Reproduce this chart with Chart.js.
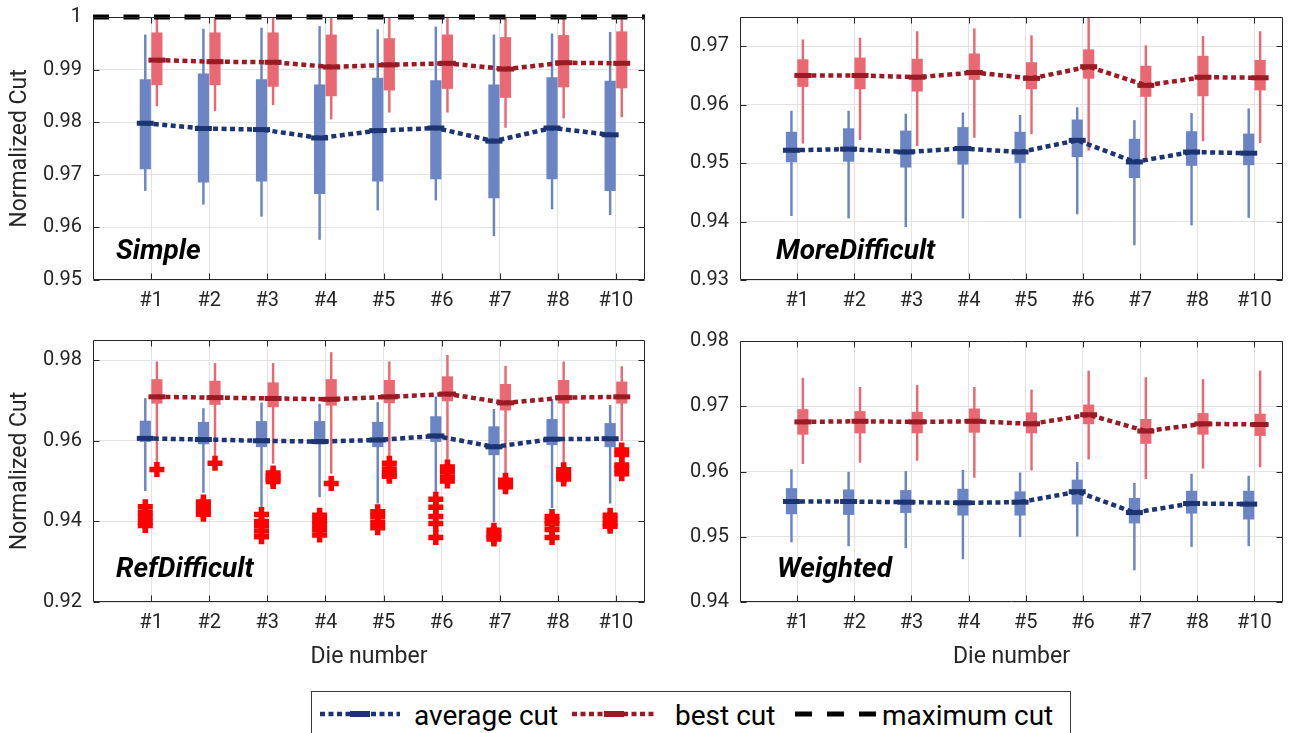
<!DOCTYPE html>
<html>
<head>
<meta charset="utf-8">
<script src="https://cdn.jsdelivr.net/npm/chart.js@4.4.1/dist/chart.umd.min.js"></script>
<style>
  body { margin: 0; background: #fff; width: 1291px; height: 733px; overflow: hidden; position: relative; font-family: Roboto, sans-serif; color: #262626; }
  canvas { position: absolute; }
  .tag { position: absolute; font: italic 700 28px Roboto, sans-serif; line-height: 28px; color: #000; white-space: nowrap; }
  #legend { position: absolute; left: 311px; top: 691px; width: 760px; height: 52px; border: 1px solid #3a3a3a; box-sizing: border-box; background: #fff; }
  #legend svg, #legend span { position: absolute; }
  #legend span { font-size: 28px; line-height: 28px; color: #000; white-space: nowrap; }
</style>
</head>
<body>
<!-- canvases start 23px above the plot box: chart.js keeps that room for the top tick label -->
<canvas id="simple" width="650" height="326" style="left:0;top:-6px"></canvas>
<canvas id="more" width="641" height="326" style="left:650px;top:-6px"></canvas>
<canvas id="ref" width="650" height="363" style="left:0;top:317px"></canvas>
<canvas id="weighted" width="641" height="362" style="left:650px;top:318px"></canvas>

<div class="tag" style="left:116px;top:236px">Simple</div>
<div class="tag" style="left:776px;top:236px">MoreDifficult</div>
<div class="tag" style="left:116px;top:554px">RefDifficult</div>
<div class="tag" style="left:777px;top:554px">Weighted</div>

<div id="legend">
  <svg style="left:8px;top:16px" width="80" height="12">
    <line x1="0" y1="6" x2="80" y2="6" stroke="#1d3473" stroke-width="4.5" stroke-dasharray="5 3.5"/>
    <line x1="30" y1="6" x2="50" y2="6" stroke="#1d3473" stroke-width="6"/>
  </svg>
  <span style="left:102px;top:10px">average cut</span>
  <svg style="left:260px;top:16px" width="84" height="12">
    <line x1="0" y1="6" x2="84" y2="6" stroke="#9b1b24" stroke-width="4.5" stroke-dasharray="5 3.5"/>
    <line x1="32" y1="6" x2="52" y2="6" stroke="#9b1b24" stroke-width="6"/>
  </svg>
  <span style="left:363px;top:10px">best cut</span>
  <svg style="left:483px;top:16px" width="84" height="12">
    <line x1="0" y1="6" x2="84" y2="6" stroke="#000" stroke-width="5" stroke-dasharray="17 15"/>
  </svg>
  <span style="left:570px;top:10px">maximum cut</span>
</div>

<script>
const dies = ['#1', '#2', '#3', '#4', '#5', '#6', '#7', '#8', '#10'];

// each entry: [lower whisker, q1, median, q3, upper whisker]
const simpleAvg = [
  [0.9670, 0.9711, 0.9798, 0.9881, 0.9966],
  [0.9644, 0.9686, 0.9788, 0.9892, 0.9977],
  [0.9621, 0.9688, 0.9786, 0.9881, 0.9979],
  [0.9577, 0.9664, 0.9770, 0.9871, 0.9982],
  [0.9633, 0.9688, 0.9784, 0.9884, 0.9976],
  [0.9652, 0.9692, 0.9789, 0.9879, 0.9981],
  [0.9584, 0.9656, 0.9764, 0.9871, 0.9966],
  [0.9635, 0.9692, 0.9789, 0.9885, 0.9968],
  [0.9624, 0.9670, 0.9776, 0.9878, 0.9971]
];
const simpleBest = [
  [0.9831, 0.9871, 0.9918, 0.9970, 1.0],
  [0.9822, 0.9871, 0.9915, 0.9970, 1.0],
  [0.9833, 0.9868, 0.9914, 0.9970, 1.0],
  [0.9806, 0.9850, 0.9905, 0.9966, 1.0],
  [0.9819, 0.9861, 0.9909, 0.9959, 1.0],
  [0.9819, 0.9864, 0.9912, 0.9966, 1.0],
  [0.9790, 0.9847, 0.9901, 0.9961, 1.0],
  [0.9808, 0.9867, 0.9913, 0.9965, 1.0],
  [0.9810, 0.9865, 0.9912, 0.9972, 0.9995]
];

const moreAvg = [
  [0.9410, 0.9502, 0.9522, 0.9553, 0.9589],
  [0.9406, 0.9503, 0.9524, 0.9559, 0.9589],
  [0.9391, 0.9493, 0.9519, 0.9555, 0.9584],
  [0.9406, 0.9498, 0.9525, 0.9561, 0.9586],
  [0.9406, 0.9501, 0.9519, 0.9553, 0.9582],
  [0.9413, 0.9511, 0.9539, 0.9574, 0.9595],
  [0.9360, 0.9475, 0.9502, 0.9541, 0.9573],
  [0.9394, 0.9496, 0.9519, 0.9554, 0.9585],
  [0.9407, 0.9497, 0.9517, 0.9550, 0.9593]
];
const moreBest = [
  [0.9534, 0.9631, 0.9650, 0.9677, 0.9711],
  [0.9540, 0.9627, 0.9650, 0.9680, 0.9714],
  [0.9530, 0.9623, 0.9647, 0.9678, 0.9725],
  [0.9544, 0.9643, 0.9655, 0.9687, 0.9730],
  [0.9550, 0.9627, 0.9645, 0.9672, 0.9718],
  [0.9522, 0.9645, 0.9665, 0.9694, 0.9760],
  [0.9509, 0.9614, 0.9633, 0.9666, 0.9701],
  [0.9538, 0.9615, 0.9647, 0.9683, 0.9717],
  [0.9535, 0.9625, 0.9646, 0.9676, 0.9725]
];

const refAvg = [
  [0.9476, 0.9598, 0.9606, 0.9649, 0.9705],
  [0.9472, 0.9592, 0.9603, 0.9646, 0.9680],
  [0.9436, 0.9585, 0.9600, 0.9648, 0.9694],
  [0.9461, 0.9592, 0.9598, 0.9648, 0.9691],
  [0.9445, 0.9585, 0.9602, 0.9646, 0.9695],
  [0.9453, 0.9598, 0.9612, 0.9660, 0.9709],
  [0.9399, 0.9565, 0.9585, 0.9635, 0.9678],
  [0.9434, 0.9590, 0.9604, 0.9653, 0.9703],
  [0.9445, 0.9585, 0.9605, 0.9643, 0.9688]
];
const refBest = [
  [0.9548, 0.9693, 0.9709, 0.9752, 0.9796],
  [0.9558, 0.9690, 0.9707, 0.9748, 0.9792],
  [0.9544, 0.9684, 0.9705, 0.9744, 0.9792],
  [0.9519, 0.9688, 0.9703, 0.9752, 0.9819],
  [0.9560, 0.9694, 0.9709, 0.9750, 0.9796],
  [0.9552, 0.9699, 0.9716, 0.9759, 0.9812],
  [0.9515, 0.9676, 0.9694, 0.9740, 0.9785],
  [0.9544, 0.9693, 0.9707, 0.9750, 0.9796],
  [0.9600, 0.9693, 0.9709, 0.9746, 0.9784]
];
// outliers beyond the whiskers, per die
const refAvgOutliers = [
  [0.9436, 0.9422, 0.9410, 0.9398, 0.9390],
  [0.9448, 0.9440, 0.9432, 0.9424, 0.9418],
  [0.9417, 0.9400, 0.9390, 0.9376, 0.9362],
  [0.9415, 0.9402, 0.9392, 0.9380, 0.9366],
  [0.9424, 0.9412, 0.9398, 0.9384],
  [0.9455, 0.9435, 0.9412, 0.9395, 0.9360],
  [0.9378, 0.9370, 0.9362, 0.9356],
  [0.9412, 0.9402, 0.9394, 0.9380, 0.9360],
  [0.9415, 0.9405, 0.9395, 0.9388]
];
const refBestOutliers = [
  [0.9529],
  [0.9544],
  [0.9520, 0.9512, 0.9505, 0.9499],
  [0.9494],
  [0.9544, 0.9530, 0.9518, 0.9512],
  [0.9535, 0.9524, 0.9510, 0.9500],
  [0.9502, 0.9494, 0.9486],
  [0.9528, 0.9520, 0.9512, 0.9505],
  [0.9577, 0.9566, 0.9540, 0.9530, 0.9518]
];

const weightedAvg = [
  [0.9492, 0.9535, 0.9554, 0.9574, 0.9603],
  [0.9486, 0.9534, 0.9554, 0.9572, 0.9599],
  [0.9483, 0.9537, 0.9553, 0.9571, 0.9600],
  [0.9466, 0.9533, 0.9552, 0.9573, 0.9602],
  [0.9500, 0.9533, 0.9553, 0.9569, 0.9598],
  [0.9501, 0.9550, 0.9569, 0.9587, 0.9614],
  [0.9449, 0.9521, 0.9537, 0.9559, 0.9582],
  [0.9485, 0.9536, 0.9551, 0.9570, 0.9596],
  [0.9486, 0.9527, 0.9550, 0.9570, 0.9593]
];
const weightedBest = [
  [0.9612, 0.9657, 0.9676, 0.9695, 0.9743],
  [0.9614, 0.9659, 0.9677, 0.9692, 0.9729],
  [0.9617, 0.9659, 0.9676, 0.9691, 0.9732],
  [0.9591, 0.9660, 0.9677, 0.9696, 0.9729],
  [0.9602, 0.9659, 0.9673, 0.9690, 0.9725],
  [0.9619, 0.9673, 0.9687, 0.9702, 0.9754],
  [0.9589, 0.9643, 0.9662, 0.9680, 0.9744],
  [0.9605, 0.9657, 0.9673, 0.9689, 0.9741],
  [0.9607, 0.9655, 0.9672, 0.9688, 0.9754]
];

const simpleTicks = [0.95, 0.96, 0.97, 0.98, 0.99, 1];
const moreTicks = [0.93, 0.94, 0.95, 0.96, 0.97];
const refTicks = [0.92, 0.94, 0.96, 0.98];
const weightedTicks = [0.94, 0.95, 0.96, 0.97, 0.98];
const maxCut = 1;

const AVG_BOX = '#6a84c4', AVG_LINE = '#1d3473';
const BEST_BOX = '#ea6871', BEST_LINE = '#9b1b24';
const OUTLIER = '#ff0000';
const SHIFT = 0.1;

Chart.defaults.font.family = 'Roboto, sans-serif';
Chart.defaults.color = '#262626';

// box frame with inward tick marks on all four sides
const framePlugin = {
  id: 'frame',
  afterDraw(chart) {
    const { ctx, chartArea: a, scales } = chart;
    const L = Math.round(a.left) + 0.5, R = Math.round(a.right) - 0.5;
    const T = Math.round(a.top) + 0.5, B = Math.round(a.bottom) - 0.5;
    ctx.save();
    ctx.strokeStyle = '#262626';
    ctx.lineWidth = 1;
    ctx.beginPath();
    ctx.rect(L, T, R - L, B - T);
    scales.y.ticks.forEach(t => {
      const py = Math.round(scales.y.getPixelForValue(t.value)) + 0.5;
      ctx.moveTo(L, py); ctx.lineTo(L + 6, py);
      ctx.moveTo(R, py); ctx.lineTo(R - 6, py);
    });
    scales.x.ticks.forEach(t => {
      const px = Math.round(scales.x.getPixelForValue(t.value)) + 0.5;
      ctx.moveTo(px, B); ctx.lineTo(px, B - 6);
      ctx.moveTo(px, T); ctx.lineTo(px, T + 6);
    });
    ctx.stroke();
    ctx.restore();
  }
};

function boxSeries(stats, shift, boxColor, lineColor) {
  const xs = stats.map((s, i) => i + 1 + shift);
  return [
    {
      type: 'bar', grouped: false, order: 4,
      data: stats.map((s, i) => ({ x: xs[i], y: [s[0], s[4]] })),
      backgroundColor: boxColor, barThickness: 1.8, borderWidth: 0
    },
    {
      type: 'bar', grouped: false, order: 3,
      data: stats.map((s, i) => ({ x: xs[i], y: [s[1], s[3]] })),
      backgroundColor: boxColor, barThickness: 10.5, borderWidth: 0
    },
    {
      type: 'line', order: 1,
      data: stats.map((s, i) => ({ x: xs[i], y: s[2] })),
      borderColor: lineColor, borderWidth: 4.5, borderDash: [5, 3.5],
      pointStyle: 'line', pointRadius: 8.5, pointBorderWidth: 5,
      pointBorderColor: lineColor, pointBackgroundColor: lineColor
    }
  ];
}

function outlierSeries(lists, shift) {
  const pts = [];
  lists.forEach((vals, i) => vals.forEach(v => pts.push({ x: i + 1 + shift, y: v })));
  return {
    type: 'scatter', order: 0, data: pts,
    pointStyle: 'cross', pointRadius: 7.5, pointBorderWidth: 5.5,
    borderColor: OUTLIER, backgroundColor: OUTLIER
  };
}

function panel(id, p) {
  const datasets = [
    ...boxSeries(p.avg, -SHIFT, AVG_BOX, AVG_LINE),
    ...boxSeries(p.best, SHIFT, BEST_BOX, BEST_LINE),
    ...(p.extra || [])
  ];
  return new Chart(document.getElementById(id), {
    type: 'bar',
    data: { datasets },
    options: {
      responsive: false,
      animation: false,
      devicePixelRatio: 1,
      layout: {
        autoPadding: false,
        padding: { top: 0, right: p.padRight, left: 0, bottom: 0 }
      },
      plugins: { legend: { display: false }, tooltip: { enabled: false } },
      scales: {
        x: {
          type: 'linear', min: 0, max: 9.5, offset: false,
          grid: { color: '#e3e3e3', drawTicks: false, offset: false },
          border: { display: false },
          afterBuildTicks: s => { s.ticks = dies.map((d, i) => ({ value: i + 1 })); },
          afterFit: s => { s.height = p.xHeight; },
          ticks: {
            autoSkip: false, maxRotation: 0, padding: 9,
            font: { size: 20 },
            callback: (v, i) => dies[i]
          },
          title: {
            display: !!p.xTitle, text: p.xTitle || '',
            font: { size: 23 }, padding: { top: 0, bottom: 9 }
          }
        },
        y: {
          min: p.min, max: p.max,
          grid: { color: '#e3e3e3', drawTicks: false },
          border: { display: false },
          afterBuildTicks: s => { s.ticks = p.ticks.map(v => ({ value: v })); },
          afterFit: s => { s.width = p.yWidth; },
          ticks: {
            padding: 11,
            font: { size: 20 },
            callback: v => String(+v.toFixed(2))
          },
          title: {
            display: !!p.yTitle, text: p.yTitle || '',
            font: { size: 23 }, padding: { top: 6, bottom: 0 }
          }
        }
      }
    },
    plugins: [framePlugin]
  });
}

const maxLine = {
  type: 'line', order: 0, clip: false,
  data: [{ x: 0, y: maxCut }, { x: 9.5, y: maxCut }],
  borderColor: '#000', borderWidth: 5, borderDash: [16, 14.5],
  pointRadius: 0
};

panel('simple', {
  avg: simpleAvg, best: simpleBest, ticks: simpleTicks, min: 0.95, max: 1,
  yTitle: 'Normalized Cut', yWidth: 93, xHeight: 40, padRight: 5,
  extra: [maxLine]
});
panel('more', {
  avg: moreAvg, best: moreBest, ticks: moreTicks, min: 0.93, max: 0.975,
  yWidth: 90, xHeight: 40, padRight: 8
});
panel('ref', {
  avg: refAvg, best: refBest, ticks: refTicks, min: 0.92, max: 0.985,
  yTitle: 'Normalized Cut', xTitle: 'Die number',
  yWidth: 93, xHeight: 78, padRight: 5,
  extra: [outlierSeries(refAvgOutliers, -SHIFT), outlierSeries(refBestOutliers, SHIFT)]
});
panel('weighted', {
  avg: weightedAvg, best: weightedBest, ticks: weightedTicks, min: 0.94, max: 0.98,
  xTitle: 'Die number',
  yWidth: 90, xHeight: 78, padRight: 8
});
</script>
</body>
</html>
